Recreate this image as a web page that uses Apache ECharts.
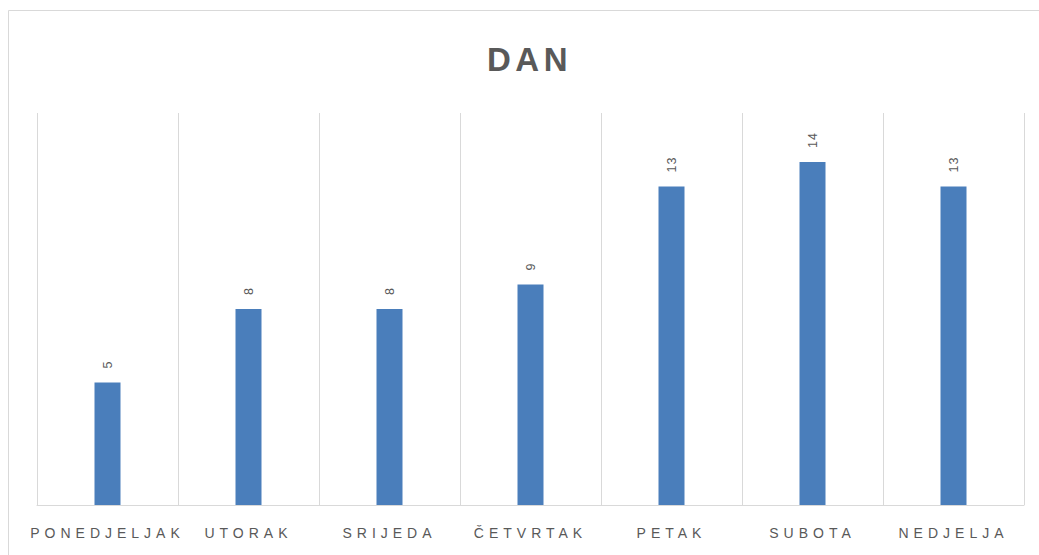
<!DOCTYPE html>
<html>
<head>
<meta charset="utf-8">
<script src="https://cdn.jsdelivr.net/npm/echarts@6/dist/echarts.min.js"></script>
<style>
html,body{margin:0;padding:0;background:#fff;}
#chart{width:1039px;height:555px;}
#chart text[style*="33px"]{letter-spacing:4.5px;}
#chart text[style*="14px"]{letter-spacing:5px;}
#chart text[style*="12.5px"]{letter-spacing:1px;}
</style>
</head>
<body>
<div id="chart"></div>
<script>
var titleText = 'DAN';
var categories = ['PONEDJELJAK','UTORAK','SRIJEDA','ČETVRTAK','PETAK','SUBOTA','NEDJELJA'];
var values = [5, 8, 8, 9, 13, 14, 13];

var chart = echarts.init(document.getElementById('chart'), null, {renderer: 'svg'});
chart.setOption({
  animation: false,
  backgroundColor: '#ffffff',
  title: {
    text: titleText,
    left: 482,
    top: 38,
    textStyle: {fontFamily: 'Liberation Sans', fontSize: 33, fontWeight: 'bold', color: '#595959'}
  },
  graphic: [{
    type: 'rect',
    shape: {x: 8.5, y: 10.5, width: 1040, height: 560},
    style: {fill: 'none', stroke: '#d9d9d9', lineWidth: 1},
    silent: true
  }],
  grid: {left: 37, right: 15, top: 113, bottom: 50, containLabel: false},
  xAxis: {
    type: 'category',
    data: categories,
    boundaryGap: true,
    axisLine: {show: true, lineStyle: {color: '#d9d9d9', width: 1}},
    axisTick: {show: false},
    splitLine: {show: true, lineStyle: {color: '#d9d9d9', width: 1}},
    axisLabel: {interval: 0, margin: 21, fontFamily: 'Liberation Sans', fontSize: 14, color: '#595959'}
  },
  yAxis: {
    type: 'value',
    min: 0,
    max: 16,
    interval: 2,
    show: true,
    axisLine: {show: false},
    axisTick: {show: false},
    axisLabel: {show: false},
    splitLine: {show: false}
  },
  series: [{
    type: 'bar',
    data: values,
    barWidth: 26,
    itemStyle: {color: '#4a7ebb'},
    label: {
      show: true,
      position: 'top',
      rotate: 90,
      align: 'left',
      verticalAlign: 'middle',
      distance: 14,
      fontFamily: 'Liberation Sans',
      fontSize: 12.5,
      color: '#595959'
    }
  }]
});
</script>
</body>
</html>
